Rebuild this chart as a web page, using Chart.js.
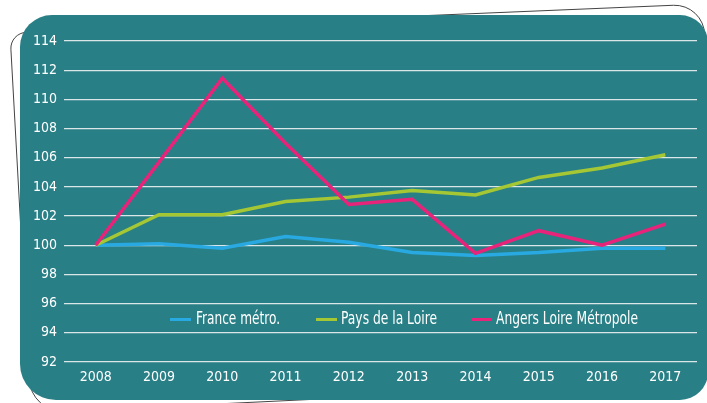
<!DOCTYPE html>
<html>
<head>
<meta charset="utf-8">
<script src="https://cdn.jsdelivr.net/npm/chart.js@4/dist/chart.umd.min.js"></script>
<style>
  html, body { margin: 0; padding: 0; background: #fff; }
  #wrap { position: relative; width: 707px; height: 403px; overflow: hidden; }
  canvas { position: absolute; left: 0; top: 0; }
  .lg { position: absolute; top: 307px; height: 22px; line-height: 22px; color: #fff;
        font-family: 'DejaVu Sans', sans-serif; font-stretch: condensed; font-size: 17px; white-space: nowrap;
        transform-origin: 0 50%; }
  .sw { position: absolute; top: 318px; width: 21px; height: 3px; }
</style>
</head>
<body>
<div id="wrap">
  <canvas id="c" width="707" height="403"></canvas>
  <div class="sw" style="left:170px;background:#29a9e1"></div>
  <div class="lg" data-w="84" style="left:196px">France métro.</div>
  <div class="sw" style="left:316px;background:#a5c734"></div>
  <div class="lg" data-w="96" style="left:341px">Pays de la Loire</div>
  <div class="sw" style="left:471px;background:#e8237a"></div>
  <div class="lg" data-w="142" style="left:496px">Angers Loire Métropole</div>
</div>
<script>
const years = ['2008','2009','2010','2011','2012','2013','2014','2015','2016','2017'];
const franceMetro = [100, 100.1, 99.8, 100.6, 100.2, 99.5, 99.3, 99.5, 99.8, 99.8];
const paysDeLaLoire = [100, 102.1, 102.1, 103.0, 103.3, 103.75, 103.45, 104.65, 105.3, 106.2];
const angersLoireMetropole = [100, 105.7, 111.45, 107.0, 102.8, 103.15, 99.45, 101.0, 100.0, 101.45];
const yMin = 92, yMax = 114, yStep = 2;

const FONT = "'DejaVu Sans Condensed', 'Liberation Sans Narrow', 'DejaVu Sans', sans-serif";

document.querySelectorAll('.lg').forEach(el => {
  const w = el.getBoundingClientRect().width;
  const target = parseFloat(el.dataset.w);
  el.style.transform = 'scaleX(' + (target / w) + ')';
});

function roundPoly(ctx, pts, r) {
  const n = pts.length;
  const m0 = [(pts[0][0] + pts[n-1][0]) / 2, (pts[0][1] + pts[n-1][1]) / 2];
  ctx.moveTo(m0[0], m0[1]);
  for (let i = 0; i < n; i++) {
    const p = pts[i], q = pts[(i + 1) % n];
    ctx.arcTo(p[0], p[1], q[0], q[1], r[i]);
  }
  ctx.closePath();
}

const bgPlugin = {
  id: 'bg',
  beforeDraw(chart) {
    const ctx = chart.ctx;
    ctx.save();
    ctx.fillStyle = '#fff';
    ctx.fillRect(0, 0, chart.width, chart.height);
    // sketch outline
    ctx.beginPath();
    roundPoly(ctx, [[10, 33], [704, 4], [712, 380], [31, 413]], [16, 30, 30, 34]);
    ctx.strokeStyle = '#444';
    ctx.lineWidth = 1;
    ctx.stroke();
    // teal box
    ctx.beginPath();
    roundPoly(ctx, [[20, 15], [708, 15], [708, 400], [20, 400]], [32, 28, 28, 36]);
    ctx.fillStyle = '#297f86';
    ctx.fill();
    ctx.restore();
  }
};

new Chart(document.getElementById('c'), {
  type: 'line',
  data: {
    labels: years,
    datasets: [
      { label: 'France métro.', data: franceMetro, borderColor: '#29a9e1', order: 3 },
      { label: 'Pays de la Loire', data: paysDeLaLoire, borderColor: '#a5c734', order: 2 },
      { label: 'Angers Loire Métropole', data: angersLoireMetropole, borderColor: '#e8237a', order: 1 }
    ]
  },
  options: {
    responsive: false,
    animation: false,
    devicePixelRatio: 1,
    layout: { padding: { left: 20, right: 10, top: 41, bottom: 16 } },
    elements: {
      line: { borderWidth: 3.5, tension: 0, fill: false, borderJoinStyle: 'miter' },
      point: { radius: 0, hoverRadius: 0 }
    },
    plugins: { legend: { display: false }, tooltip: { enabled: false } },
    scales: {
      x: {
        offset: true,
        grid: { display: false, drawTicks: false },
        border: { display: false },
        ticks: { color: '#fff', font: { family: FONT, size: 14 }, padding: 7, maxRotation: 0 },
        afterFit(s) { s.height = 25; }
      },
      y: {
        min: yMin, max: yMax,
        grid: { color: '#d9e7e8', lineWidth: 1.3, drawTicks: false },
        border: { display: false },
        ticks: { stepSize: yStep, color: '#fff', font: { family: FONT, size: 14 }, padding: 7 },
        afterFit(s) { s.width = 44; }
      }
    }
  },
  plugins: [bgPlugin]
});
</script>
</body>
</html>
